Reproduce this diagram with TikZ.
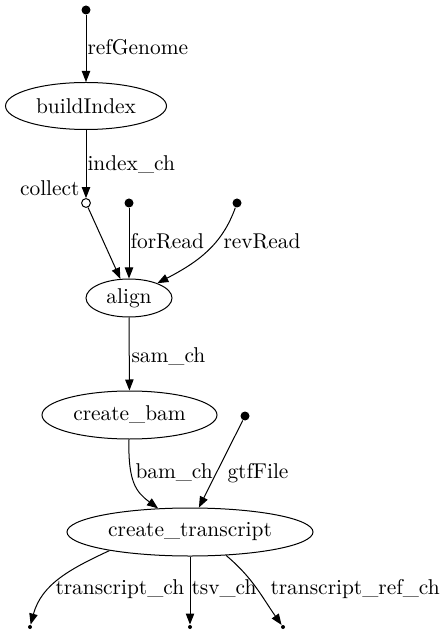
\documentclass[tikz,border=0pt]{standalone}
\usepackage{tikz}
\usetikzlibrary{arrows.meta, shapes.geometric, positioning}

\tikzset{
	proc/.style={draw, ellipse, inner sep=0pt},
	src/.style={circle, fill, inner sep=0pt, minimum size=4.5pt},
	sink/.style={circle, fill, inner sep=0pt, minimum size=2pt},
	op/.style={circle, draw, fill=white, inner sep=0pt, minimum size=4.4pt},
	flow/.style={-{Triangle[length=5.5pt, width=4.2pt]}},
	lbl/.style={anchor=west, inner sep=0pt}
}

\begin{document}
\begin{tikzpicture}[x=0.5pt, y=0.5pt, line width=0.5pt, font=\fontsize{10.7}{13}\selectfont]
	\useasboundingbox (0,0) rectangle (442,-635);

	\node[src] (ref) at (86,-10) {};
	\node[proc, minimum width=80.5pt, minimum height=23.5pt] (bi) at (86,-106) {buildIndex};
	\node[op] (collect) at (86,-203) {};
	\node[src] (fwd) at (129,-203) {};
	\node[src] (rev) at (237,-203) {};
	\node[proc, minimum width=43pt, minimum height=19pt] (align) at (129,-298) {align};
	\node[proc, minimum width=87.5pt, minimum height=24pt] (bam) at (129.5,-415) {create\_bam};
	\node[src] (gtf) at (245,-416) {};
	\node[proc, minimum width=123pt, minimum height=24pt] (ct) at (190,-532) {create\_transcript};
	\node[sink] (o1) at (30,-627) {};
	\node[sink] (o2) at (190,-627) {};
	\node[sink] (o3) at (283,-627) {};

	\node[lbl] (l_ref) at (87,-47) {refGenome};
	\node[lbl] (l_idx) at (87,-165) {index\_ch};
	\node[inner sep=0pt, anchor=east] (l_col) at (80,-188) {collect};
	\node[lbl] (l_fwd) at (130,-241) {forRead};
	\node[lbl] (l_rev) at (223,-241) {revRead};
	\node[lbl] (l_sam) at (131,-357) {sam\_ch};
	\node[lbl] (l_bam) at (135,-473) {bam\_ch};
	\node[lbl] (l_gtf) at (227,-473) {gtfFile};
	\node[lbl] (l_o1) at (55,-589) {transcript\_ch};
	\node[lbl] (l_o2) at (191,-589) {tsv\_ch};
	\node[lbl] (l_o3) at (270,-589) {transcript\_ref\_ch};

	\draw[flow] (ref) -- (bi);
	\draw[flow] (bi) -- (collect);
	\draw[flow] (collect) -- (align);
	\draw[flow] (fwd) -- (align);
	\draw[flow] (rev) .. controls (222,-245) and (198,-262) .. (align);
	\draw[flow] (align) -- (bam);
	\draw[flow] (bam) .. controls (128,-482) and (136,-492) .. (ct);
	\draw[flow] (gtf) -- (ct.70);
	\draw[flow] (ct.193) to[out=205, in=75] (o1);
	\draw[flow] (ct) -- (o2);
	\draw[flow] (ct.327) to[out=-40, in=125] (o3);
\end{tikzpicture}
\end{document}
